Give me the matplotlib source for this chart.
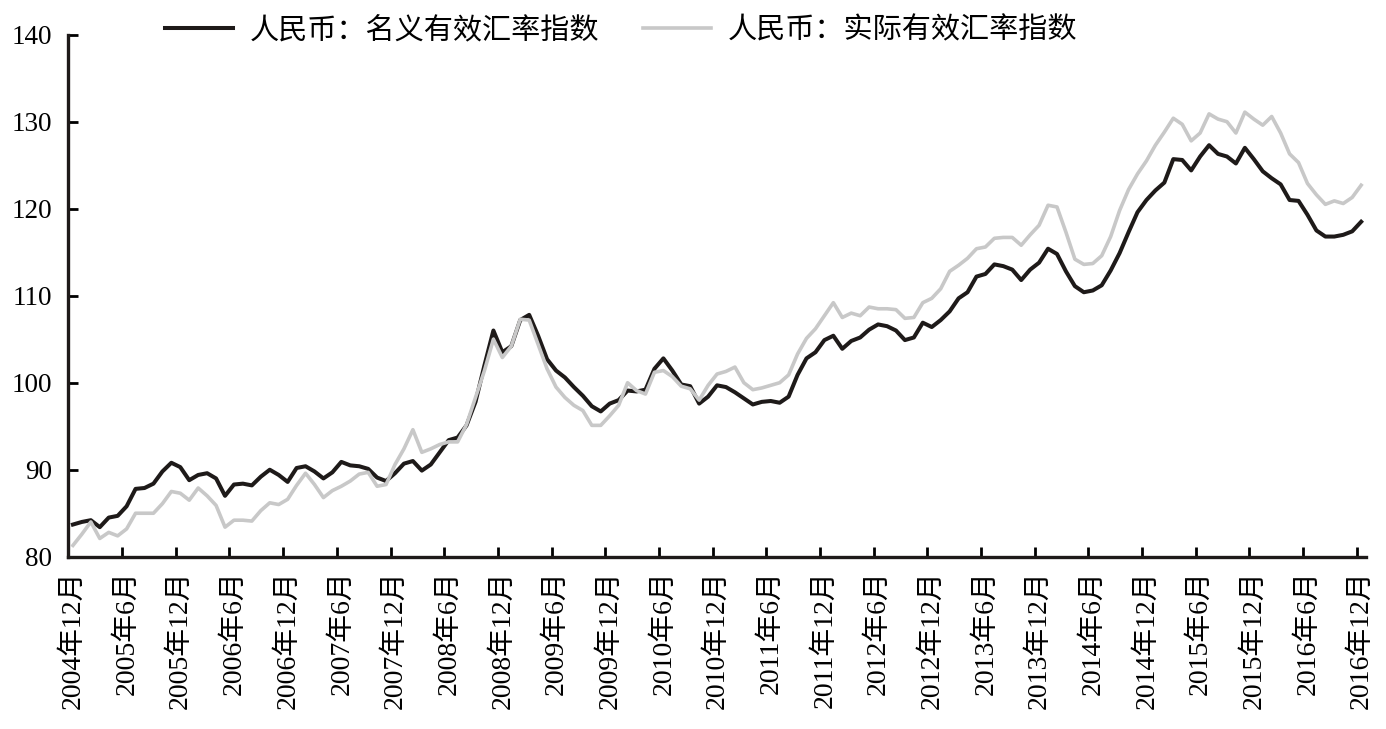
import matplotlib
matplotlib.use('Agg')
import matplotlib.pyplot as plt
import numpy as np

plt.rcParams['font.family'] = ['Liberation Serif', 'Noto Sans CJK SC']

# monthly data, 2004-12 .. 2016-12 (145 months)
nominal = [
    83.7, 84.0, 84.2, 83.4, 84.5, 84.7, 85.8, 87.8, 87.9, 88.4, 89.8, 90.8,
    90.3, 88.8, 89.4, 89.6, 89.0, 87.0, 88.3, 88.4, 88.2, 89.2, 90.0, 89.4,
    88.6, 90.2, 90.4, 89.8, 89.0, 89.7, 90.9, 90.5, 90.4, 90.1, 89.1, 88.7,
    89.6, 90.7, 91.0, 89.9, 90.6, 92.0, 93.4, 93.7, 95.1, 97.8, 102.0, 106.0,
    103.5, 104.2, 107.2, 107.8, 105.4, 102.7, 101.4, 100.6, 99.5, 98.5, 97.3, 96.7,
    97.6, 98.0, 99.1, 99.0, 99.2, 101.6, 102.8, 101.4, 99.8, 99.6, 97.6, 98.4,
    99.7, 99.5, 98.9, 98.2, 97.5, 97.8, 97.9, 97.7, 98.4, 100.9, 102.8, 103.5,
    104.9, 105.4, 103.9, 104.8, 105.2, 106.1, 106.7, 106.5, 106.0, 104.9, 105.2, 106.9,
    106.4, 107.2, 108.2, 109.7, 110.4, 112.2, 112.5, 113.6, 113.4, 113.0, 111.8, 113.0,
    113.8, 115.4, 114.8, 112.8, 111.1, 110.4, 110.6, 111.2, 112.9, 114.9, 117.3, 119.6,
    121.0, 122.1, 123.0, 125.7, 125.6, 124.4, 126.0, 127.3, 126.3, 126.0, 125.2, 127.0,
    125.7, 124.3, 123.5, 122.8, 121.0, 120.9, 119.3, 117.5, 116.8, 116.8, 117.0, 117.4,
    118.5,
]
real = [
    81.3, 82.6, 84.0, 82.1, 82.8, 82.4, 83.2, 85.0, 85.0, 85.0, 86.1, 87.5,
    87.3, 86.5, 87.9, 87.0, 85.9, 83.4, 84.2, 84.2, 84.1, 85.3, 86.2, 86.0,
    86.6, 88.2, 89.6, 88.3, 86.8, 87.6, 88.1, 88.7, 89.5, 89.7, 88.1, 88.3,
    90.6, 92.4, 94.6, 92.0, 92.4, 92.9, 93.2, 93.2, 95.2, 98.3, 101.4, 105.0,
    102.9, 104.2, 107.3, 107.2, 104.4, 101.6, 99.5, 98.3, 97.4, 96.8, 95.1, 95.1,
    96.2, 97.4, 100.0, 99.1, 98.7, 101.2, 101.4, 100.7, 99.6, 99.3, 98.0, 99.7,
    101.0, 101.3, 101.8, 100.0, 99.2, 99.4, 99.7, 100.0, 100.9, 103.3, 105.1, 106.2,
    107.7, 109.2, 107.5, 108.0, 107.7, 108.7, 108.5, 108.5, 108.4, 107.4, 107.5, 109.2,
    109.7, 110.8, 112.8, 113.5, 114.3, 115.4, 115.6, 116.6, 116.7, 116.7, 115.8, 117.0,
    118.1, 120.4, 120.2, 117.3, 114.2, 113.6, 113.7, 114.6, 116.8, 119.8, 122.2, 124.0,
    125.5, 127.3, 128.8, 130.4, 129.7, 127.8, 128.7, 130.9, 130.3, 130.0, 128.7, 131.1,
    130.3, 129.6, 130.6, 128.7, 126.3, 125.3, 122.9, 121.6, 120.5, 120.9, 120.6, 121.3,
    122.7,
]
tick_labels = []
for y in range(2004, 2017):
    for mo in (6, 12):
        if (y, mo) >= (2004, 12):
            tick_labels.append('%d年%d月' % (y, mo))

series_names = ['人民币：名义有效汇率指数', '人民币：实际有效汇率指数']

fig = plt.figure(figsize=(13.86, 7.29), dpi=100)
ax = fig.add_axes([0.0494, 0.2363, 0.9359, 0.7161])

x = np.arange(len(nominal))
ax.plot(x, nominal, color='#1e1a19', lw=2.9, label=series_names[0], zorder=3)
ax.plot(x, real, color='#c8c8c8', lw=2.6, label=series_names[1], zorder=4)

ax.set_xlim(-0.5, len(nominal) - 0.5)
ax.set_ylim(80, 140)
ax.set_yticks(range(80, 141, 10))

# ticks between categories, labels on every 6th month
ax.set_xticks(np.arange(5.5, len(nominal) - 1, 6))
ax.set_xticklabels([])
ax.set_xticks(np.arange(0, len(nominal), 6), tick_labels, minor=True)
ax.tick_params(axis='x', which='major', direction='in', length=7, width=2)
ax.tick_params(axis='x', which='minor', length=0, pad=10, rotation=90, labelsize=20)
ax.tick_params(axis='y', direction='in', length=7, width=2, pad=12, labelsize=19.5)

for s in ['top', 'right']:
    ax.spines[s].set_visible(False)
for s in ['left', 'bottom']:
    ax.spines[s].set_linewidth(2.4)
    ax.spines[s].set_color('#1e1a19')

fig.legend(loc='center left', bbox_to_anchor=(0.119, 0.958), ncol=2, frameon=False,
           fontsize=21, handlelength=2.35, handletextpad=0.55, columnspacing=1.5,
           borderpad=0, borderaxespad=0)

fig.savefig('out.png', dpi=100)
